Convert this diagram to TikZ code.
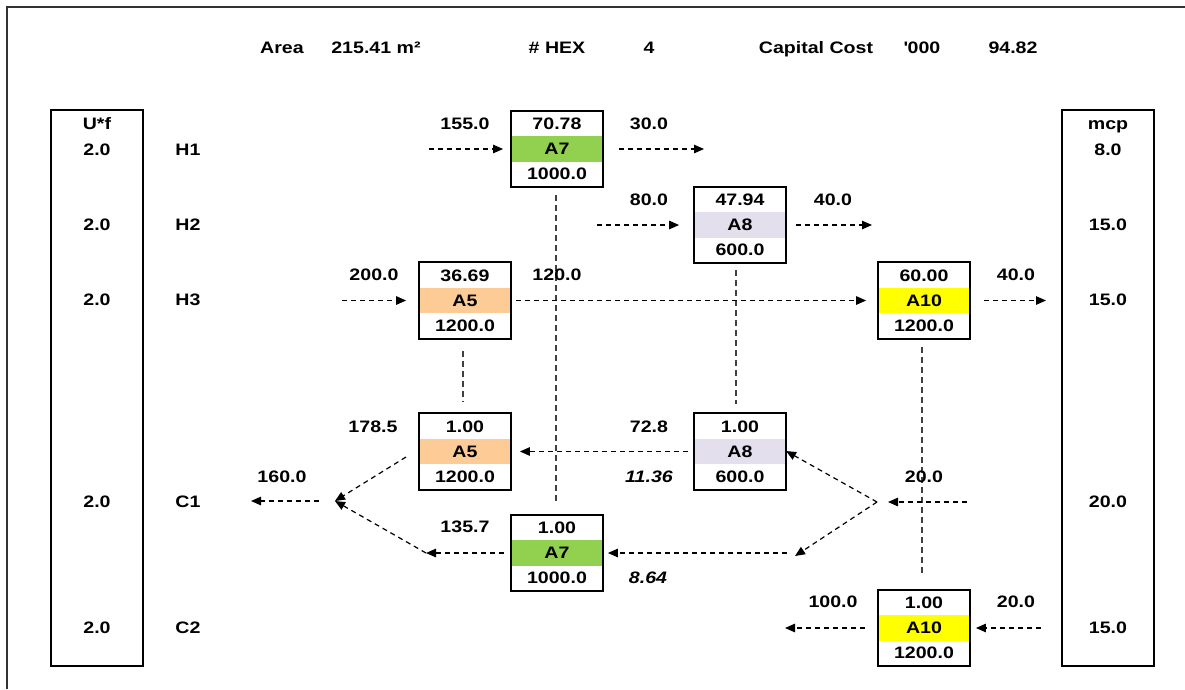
\documentclass[tikz,border=0pt]{standalone}
\usepackage{fontspec}
\setmainfont{Liberation Sans}[FakeStretch=1.18]
\usetikzlibrary{arrows.meta}
\definecolor{bandgreen}{HTML}{92D050}
\definecolor{bandpeach}{HTML}{FCCB96}
\definecolor{bandlilac}{HTML}{E3DFED}
\definecolor{bandyellow}{HTML}{FFFF00}
\definecolor{framegrey}{HTML}{333333}
\tikzset{
  txt/.style={font=\bfseries\fontsize{16.6}{18}\selectfont, inner sep=0pt, text height=11.9pt, text depth=0pt},
  itxt/.style={txt, font=\bfseries\itshape\fontsize{16.6}{18}\selectfont},
  hexbox/.style={draw, line width=1.8pt, minimum width=92pt, minimum height=76.5pt, inner sep=0pt},
  colbox/.style={draw, line width=1.8pt, minimum width=92pt, minimum height=556pt, inner sep=0pt},
  flow/.style={line width=1.2pt, dash pattern=on 5pt off 4pt, -{Triangle[length=10pt,width=8.5pt]}},
  tie/.style={line width=1.2pt, dash pattern=on 6pt off 4pt, draw=black!75},
}
% heat exchanger: name, x, y, duty, label, area cost, band colour
\newcommand\hexunit[7]{%
  \node[hexbox, path picture={\fill[#7] ([yshift=12.75pt]path picture bounding box.west) rectangle ([yshift=-12.75pt]path picture bounding box.east);}] (#1) at (#2,#3) {};
  \node[txt] (#1t) at ([yshift=25pt]#1.center) {#4};
  \node[txt] (#1m) at (#1.center) {#5};
  \node[txt] (#1b) at ([yshift=-25pt]#1.center) {#6};
}
\newcommand\quotechar{\XeTeXglyph\XeTeXcharglyph"0027\relax}
\begin{document}
\begin{tikzpicture}[x=1pt, y=-1pt]
\useasboundingbox (0,0) rectangle (1185,689);
% frame
\draw[framegrey, line width=2pt] (6.5,689) -- (6.5,6.5) -- (1185,6.5);

% summary line
\node[txt] (area) at (282,48) {Area};
\node[txt] (areav) at (376,48) {215.41 m²};
\node[txt] (nhex) at (557,48) {\# HEX};
\node[txt] (nhexv) at (649,48) {4};
\node[txt] (cost) at (816,48) {Capital Cost};
\node[txt] (costu) at (922,48) {\quotechar000};
\node[txt] (costv) at (1013,48) {94.82};

% side columns
\node[colbox] (ucol) at (97,388) {};
\node[colbox] (mcol) at (1108,388) {};
\node[txt] (uhead) at (97,124) {U*f};
\node[txt] (mhead) at (1108,124) {mcp};
\foreach \yy/\uf/\nm/\mc [count=\i] in {150/2.0/H1/8.0, 225/2.0/H2/15.0, 300/2.0/H3/15.0, 502/2.0/C1/20.0, 628/2.0/C2/15.0}{
  \node[txt] (uf\i) at (97,\yy) {\uf};
  \node[txt] (sn\i) at (188,\yy) {\nm};
  \node[txt] (mc\i) at (1108,\yy) {\mc};
}

% exchangers
\hexunit{A7h}{557}{149}{70.78}{A7}{1000.0}{bandgreen}
\hexunit{A8h}{740}{225}{47.94}{A8}{600.0}{bandlilac}
\hexunit{A5h}{465}{300.5}{36.69}{A5}{1200.0}{bandpeach}
\hexunit{A10h}{924}{300.5}{60.00}{A10}{1200.0}{bandyellow}
\hexunit{A5c}{465}{451.5}{1.00}{A5}{1200.0}{bandpeach}
\hexunit{A8c}{740}{451.5}{1.00}{A8}{600.0}{bandlilac}
\hexunit{A7c}{557}{553}{1.00}{A7}{1000.0}{bandgreen}
\hexunit{A10c}{924}{628}{1.00}{A10}{1200.0}{bandyellow}

% ties between the two sides of each exchanger
\draw[tie, shorten <=7pt, shorten >=10pt] ([xshift=-1pt]A7h.south) -- ([xshift=-1pt]A7c.north);
\draw[tie, shorten <=6pt, shorten >=8pt] ([xshift=-4pt]A8h.south) -- ([xshift=-4pt]A8c.north);
\draw[tie, shorten <=11pt, shorten >=11pt] ([xshift=-2pt]A5h.south) -- ([xshift=-2pt]A5c.north);
\draw[tie, shorten <=7pt, shorten >=13pt] ([xshift=-2pt]A10h.south) -- ([xshift=-2pt]A10c.north);

% hot streams
\coordinate (h1in) at (429,149);
\coordinate (h1out) at (704,149);
\draw[flow, shorten >=7pt] (h1in) -- (A7h.west);
\draw[flow, shorten <=15pt] (A7h.east) -- (h1out);
\coordinate (h2in) at (597,225);
\coordinate (h2out) at (872,225);
\draw[flow, shorten >=14pt] (h2in) -- (A8h.west);
\draw[flow, shorten <=9pt] (A8h.east) -- (h2out);
\coordinate (h3in) at (342,300.5);
\coordinate (h3out) at (1046,300.5);
\draw[flow, shorten >=12pt] (h3in) -- (A5h.west);
\draw[flow, shorten <=4pt, shorten >=11pt] (A5h.east) -- (A10h.west);
\draw[flow, shorten <=13pt] (A10h.east) -- (h3out);

% cold stream C2
\coordinate (c2in) at (1041,628);
\coordinate (c2out) at (785,628);
\draw[flow, shorten >=5pt] (c2in) -- (A10c.east);
\draw[flow, shorten <=12pt] (A10c.west) -- (c2out);

% cold stream C1 with split and mix
\coordinate (c1in) at (967,502);
\coordinate (c1split) at (877,502);
\coordinate (c1low) at (795,556);
\coordinate (c1ret) at (787,553);
\coordinate (c1mid) at (426,553);
\coordinate (c1a5) at (406,457);
\coordinate (c1mix) at (335,501);
\coordinate (c1out) at (251,501);
\draw[flow, shorten >=11pt] (c1in) -- (c1split);
\draw[flow, shorten >=-1pt] (c1split) -- (A8c.east);
\draw[flow] (c1split) -- (c1low);
\draw[flow, shorten >=4pt] (c1ret) -- (A7c.east);
\draw[flow, shorten <=6pt] (A7c.west) -- (c1mid);
\draw[flow] (c1mid) -- (c1mix);
\draw[flow, shorten <=5pt, shorten >=8pt] (A8c.west) -- (A5c.east);
\draw[flow] (c1a5) -- (c1mix);
\draw[flow, shorten <=16pt] (c1mix) -- (c1out);

% stream temperatures
\node[txt] (t1) at (465,124) {155.0};
\node[txt] (t2) at (649,124) {30.0};
\node[txt] (t3) at (649,200) {80.0};
\node[txt] (t4) at (833,200) {40.0};
\node[txt] (t5) at (374,275) {200.0};
\node[txt] (t6) at (557,275) {120.0};
\node[txt] (t7) at (1016,275) {40.0};
\node[txt] (t8) at (373,427) {178.5};
\node[txt] (t9) at (649,427) {72.8};
\node[itxt] (r1) at (649,477) {11.36};
\node[txt] (t10) at (282,477) {160.0};
\node[txt] (t11) at (924,477) {20.0};
\node[txt] (t12) at (465,527) {135.7};
\node[itxt] (r2) at (648,578) {8.64};
\node[txt] (t13) at (833,602) {100.0};
\node[txt] (t14) at (1016,602) {20.0};
\end{tikzpicture}
\end{document}
